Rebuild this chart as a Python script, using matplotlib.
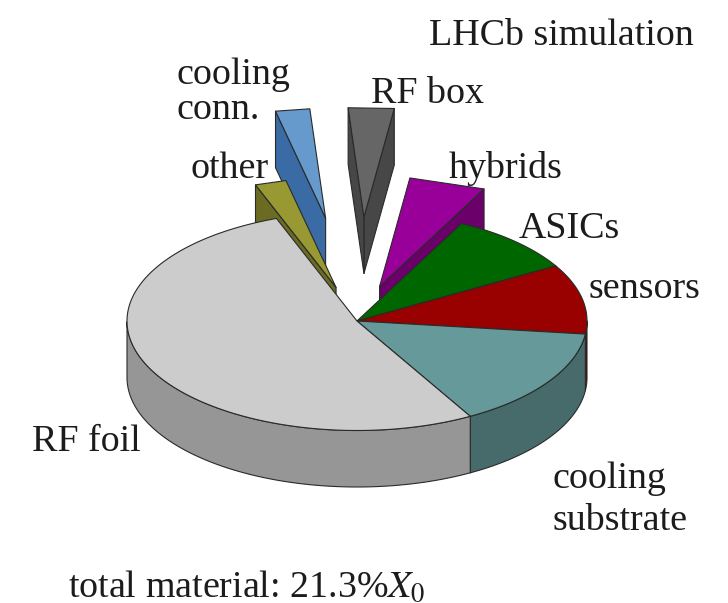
import numpy as np
import matplotlib
matplotlib.use("Agg")
import matplotlib.pyplot as plt
from matplotlib.patches import Polygon

# Share of the total material, percent of the pie,
# counter-clockwise from the RF foil's far edge.
labels = ["RF foil", "cooling substrate", "sensors", "ASICs", "hybrids", "RF box", "cooling conn.", "other"]
shares = [52.5, 14.9, 10.3, 9.1, 5.4, 3.2, 2.4, 2.2]
explode = [0.0, 0.0, 0.0, 0.0, 0.33, 0.95, 0.95, 0.32]
top_colors = ["#CCCCCC", "#669999", "#990000", "#006600", "#990099", "#666666", "#6699CC", "#999933"]
side_colors = ["#969696", "#476B6B", "#6B0000", "#004700", "#6B006B", "#474747", "#3A6BA5", "#6B6B23"]
draw_order = [5, 6, 7, 4, 3, 2, 1, 0]
start_angle = 110.5

W, H = 728, 603
CX, CY, RX, RY, DEPTH = 357, 321, 230, 109.5, 56.5   # pixels

fig = plt.figure(figsize=(W / 100, H / 100), dpi=100)
ax = fig.add_axes([0, 0, 1, 1])
ax.set_xlim(-CX / RX, (W - CX) / RX)
ax.set_ylim(-(H - CY) / RY, CY / RY)
ax.axis("off")
depth = DEPTH / RY
EDGE = dict(edgecolor="#2a2a2a", linewidth=0.8, joinstyle="round")

ends = start_angle + np.cumsum(shares) * 3.6
begins = np.concatenate([[start_angle], ends[:-1]])

for i in draw_order:
    a0, a1 = begins[i], ends[i]          # a0 < a1, counter-clockwise
    mid = np.radians((a0 + a1) / 2)
    ox, oy = explode[i] * np.cos(mid), explode[i] * np.sin(mid)
    # the exploded slices have a straight outer edge in the reference
    t = np.radians(np.linspace(a0, a1, 2 if explode[i] > 0 else 120))
    rim = np.c_[ox + np.cos(t), oy + np.sin(t)]
    apex = np.array([ox, oy])
    down = np.array([0, depth])
    # straight walls, only those facing the viewer
    for p, normal in ((rim[0], a0 - 90), (rim[-1], a1 + 90)):
        if np.sin(np.radians(normal)) < 0:
            ax.add_patch(Polygon([p, apex, apex - down, p - down], facecolor=side_colors[i], **EDGE))
    # outer wall, only the part in the front half
    front = np.sin(t) <= 0.0
    if front.sum() > 1:
        arc = rim[front]
        ax.add_patch(Polygon(np.r_[arc, (arc - down)[::-1]], facecolor=side_colors[i], **EDGE))
    # top face
    ax.add_patch(Polygon(np.r_[[apex], rim], facecolor=top_colors[i], **EDGE))

TXT = dict(family="Liberation Serif", fontsize=27.4, color="#1c1c1c", va="baseline", ha="left")
def label(px, py, s):
    fig.text(px / W, 1 - py / H, s, **TXT)

plt.rcParams["mathtext.fontset"] = "stix"
label(429, 45, "LHCb simulation")
label(176, 84, "cooling")
label(176, 119, "conn.")
label(371, 103, "RF box")
label(190, 178, "other")
label(449, 178, "hybrids")
label(519, 238, "ASICs")
label(589, 298, "sensors")
label(32, 451, "RF foil")
label(553, 488, "cooling")
label(553, 530, "substrate")
label(68, 597, r"total material: 21.3%$X_0$")

fig.savefig("out.png", dpi=100)
